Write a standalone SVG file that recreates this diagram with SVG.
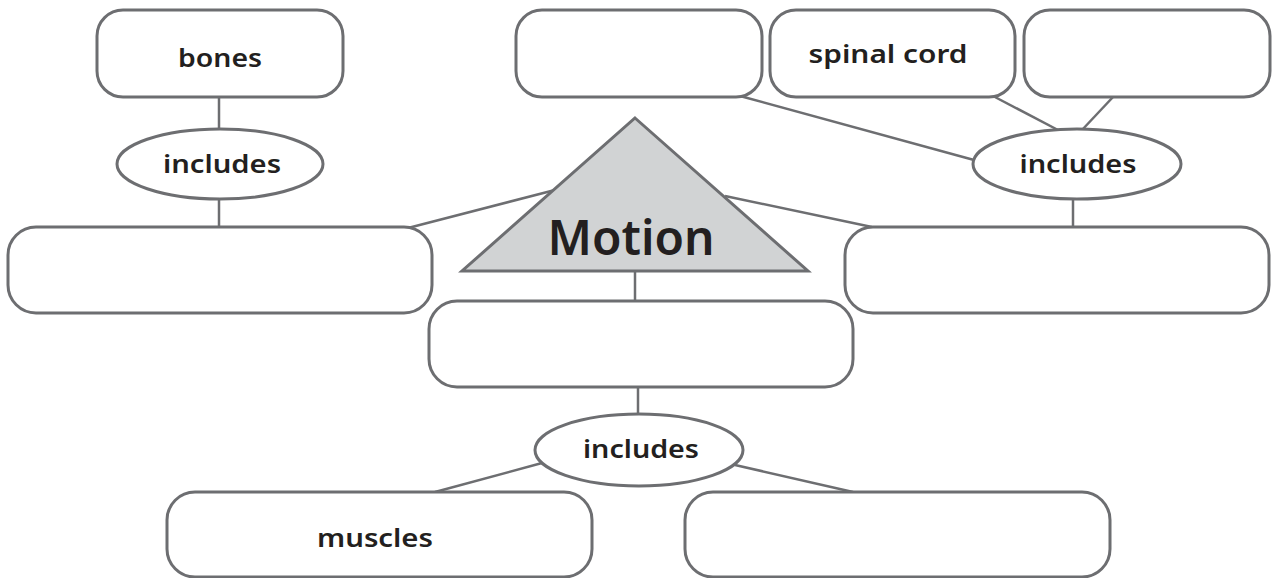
<svg xmlns="http://www.w3.org/2000/svg" width="1275" height="578" viewBox="0 0 1275 578">
<style>
.box{fill:#fff;stroke:#6d6e71;stroke-width:3}
.ell{fill:#fff;stroke:#6d6e71;stroke-width:3}
.ln{stroke:#6d6e71;stroke-width:2.5;fill:none}
.t{font-family:"Noto Sans","Liberation Sans",sans-serif;font-weight:600;fill:#231f20;text-anchor:middle}
.s{font-size:25px}
</style>
<rect width="1275" height="578" fill="#fff"/>
<g id="connectors">
<line class="ln" x1="219" y1="97" x2="219" y2="129"/>
<line class="ln" x1="219" y1="199" x2="219" y2="227"/>
<line class="ln" x1="408" y1="228" x2="555" y2="190"/>
<line class="ln" x1="725" y1="196" x2="872" y2="227"/>
<line class="ln" x1="635" y1="271" x2="635" y2="301"/>
<line class="ln" x1="638" y1="387" x2="638" y2="414"/>
<line class="ln" x1="542" y1="463" x2="435" y2="492"/>
<line class="ln" x1="735" y1="465" x2="853" y2="492"/>
<line class="ln" x1="740" y1="96" x2="974" y2="160"/>
<line class="ln" x1="993" y1="96" x2="1058" y2="130"/>
<line class="ln" x1="1113" y1="97" x2="1082" y2="130"/>
<line class="ln" x1="1073" y1="199" x2="1073" y2="227"/>
</g>
<g id="bones"><rect class="box" x="97" y="10" width="246" height="87" rx="26"/><text class="t s" x="220" y="67" textLength="84" lengthAdjust="spacingAndGlyphs">bones</text></g>
<g id="includes-left"><ellipse class="ell" cx="220" cy="164" rx="103" ry="35"/><text class="t s" x="222" y="173" textLength="118" lengthAdjust="spacingAndGlyphs">includes</text></g>
<g id="left-box"><rect class="box" x="8" y="227" width="424" height="86" rx="28"/></g>
<g id="top-mid-box"><rect class="box" x="516" y="10" width="246" height="87" rx="26"/></g>
<g id="spinal-cord"><rect class="box" x="770" y="10" width="245" height="87" rx="26"/><text class="t s" x="888" y="63" textLength="159" lengthAdjust="spacingAndGlyphs">spinal cord</text></g>
<g id="top-right-box"><rect class="box" x="1024" y="10" width="246" height="87" rx="26"/></g>
<g id="includes-right"><ellipse class="ell" cx="1077" cy="164" rx="104" ry="35"/><text class="t s" x="1078" y="173" textLength="117" lengthAdjust="spacingAndGlyphs">includes</text></g>
<g id="right-box"><rect class="box" x="845" y="227" width="424" height="86" rx="28"/></g>
<g id="motion"><polygon points="635,118 808,271 462,271" fill="#d1d3d4" stroke="#6d6e71" stroke-width="3" stroke-linejoin="miter"/><text class="t" x="631" y="255" font-size="48" textLength="167" lengthAdjust="spacingAndGlyphs">Motion</text></g>
<g id="mid-box"><rect class="box" x="429" y="301" width="424" height="86" rx="28"/></g>
<g id="includes-bottom"><ellipse class="ell" cx="639" cy="450" rx="104" ry="36"/><text class="t s" x="641" y="458" textLength="116" lengthAdjust="spacingAndGlyphs">includes</text></g>
<g id="muscles"><rect class="box" x="167" y="492" width="425" height="85" rx="28"/><text class="t s" x="375" y="547" textLength="116" lengthAdjust="spacingAndGlyphs">muscles</text></g>
<g id="bottom-right-box"><rect class="box" x="685" y="492" width="425" height="85" rx="28"/></g>
</svg>
